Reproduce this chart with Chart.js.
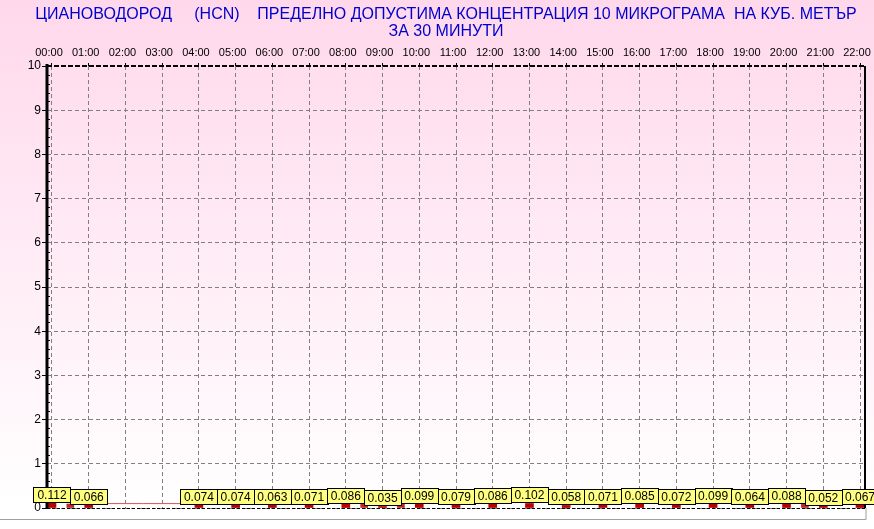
<!DOCTYPE html>
<html><head><meta charset="utf-8">
<script src="https://cdn.jsdelivr.net/npm/chart.js@4"></script>
<style>html,body{margin:0;padding:0;background:#fff}#wrap{width:874px;height:529px;position:relative}</style>
</head><body><div id="wrap"><canvas id="c" width="874" height="529"></canvas></div>
<script>
const titleLines = ['ЦИАНОВОДОРОД     (HCN)    ПРЕДЕЛНО ДОПУСТИМА КОНЦЕНТРАЦИЯ 10 МИКРОГРАМА  НА КУБ. МЕТЪР', 'ЗА 30 МИНУТИ'];
const hourLabels = ['00:00','01:00','02:00','03:00','04:00','05:00','06:00','07:00','08:00','09:00','10:00','11:00','12:00','13:00','14:00','15:00','16:00','17:00','18:00','19:00','20:00','21:00','22:00'];
const hourlyValues = [0.112,0.066,null,null,0.074,0.074,0.063,0.071,0.086,0.035,0.099,0.079,0.086,0.102,0.058,0.071,0.085,0.072,0.099,0.064,0.088,0.052,0.067];
const halfHourLabels = ['00:30','08:30','09:30','20:30'];
const halfHourValues = [0.09,0.1,0.1,0.1];
const traceLabels = ['00:30','01:00','01:30','02:00','02:30','03:00','03:30','04:00'];
const traceValues = [0.1,0.1,0.1,0.1,0.1,0.1,0.1,0.1];
const yMin = 0, yMax = 10;

const toH = s => { const p = s.split(':'); return +p[0] + (+p[1])/60; };
const FONT = '"Liberation Sans", Arial, sans-serif';

const bgPlugin = {
  id: 'bg',
  beforeDraw(chart) {
    const ctx = chart.ctx;
    const g = ctx.createLinearGradient(0, 0, 0, chart.height);
    g.addColorStop(0, '#FFD8EB');
    g.addColorStop(0.96, '#FFFFFF');
    g.addColorStop(1, '#FFFFFF');
    ctx.save();
    ctx.fillStyle = g;
    ctx.fillRect(0, 0, chart.width, chart.height);
    ctx.fillStyle = '#0000CC';
    ctx.font = '16px ' + FONT;
    ctx.textAlign = 'center';
    ctx.textBaseline = 'middle';
    ctx.fillText(titleLines[0], 446, 15);
    ctx.fillText(titleLines[1], 446, 32);
    ctx.restore();
  }
};

const framePlugin = {
  id: 'frame',
  afterDatasetsDraw(chart) {
    const ctx = chart.ctx, a = chart.chartArea, ys = chart.scales.y, xs = chart.scales.x;
    ctx.save();
    ctx.strokeStyle = '#000'; ctx.lineWidth = 1; ctx.setLineDash([3,2]);
    ctx.beginPath(); ctx.moveTo(a.left, a.bottom + 0.5); ctx.lineTo(a.right, a.bottom + 0.5); ctx.stroke();
    ctx.lineWidth = 2; ctx.setLineDash([5,2]);
    ctx.beginPath(); ctx.moveTo(a.left, a.top); ctx.lineTo(a.right, a.top); ctx.stroke();
    ctx.setLineDash([]);
    ctx.lineWidth = 2;
    ctx.beginPath(); ctx.moveTo(a.right, a.top); ctx.lineTo(a.right, a.bottom); ctx.stroke();
    ctx.lineWidth = 3;
    ctx.beginPath(); ctx.moveTo(a.left, a.top - 2); ctx.lineTo(a.left, a.bottom); ctx.stroke();
    ctx.lineWidth = 1;
    for (let i = 1; i < 50; i++) {
      if (i % 5 === 0) continue;
      const py = Math.round(ys.getPixelForValue(i / 5)) + 0.5;
      ctx.beginPath(); ctx.moveTo(a.left, py); ctx.lineTo(a.left + 3, py); ctx.stroke();
    }
    ctx.strokeStyle = '#A0A0A0'; ctx.lineWidth = 1;
    ctx.beginPath(); ctx.moveTo(0, 519.5); ctx.lineTo(a.right + 1, 519.5); ctx.lineTo(a.right + 1, a.bottom); ctx.stroke();
    ctx.font = '12px ' + FONT;
    ctx.textAlign = 'center'; ctx.textBaseline = 'middle';
    hourLabels.forEach((l, i) => {
      const v = hourlyValues[i];
      if (v === null) return;
      const px = xs.getPixelForValue(toH(l));
      const py = ys.getPixelForValue(v);
      const txt = v.toFixed(3);
      const w = 37, h = 15;
      const x0 = Math.round(px - w / 2) + 0.5, y0 = Math.round(py - 1 - h) + 0.5;
      ctx.fillStyle = '#FFFF80';
      ctx.fillRect(x0, y0, w, h);
      ctx.strokeStyle = '#000';
      ctx.strokeRect(x0, y0, w, h);
      ctx.fillStyle = '#000';
      ctx.fillText(txt, px, y0 + h / 2 + 0.5);
    });
    ctx.restore();
  }
};

const hourlyData = hourLabels.map((l, i) => ({ x: toH(l), y: hourlyValues[i] })).filter(p => p.y !== null);
const halfData = halfHourLabels.map((l, i) => ({ x: toH(l), y: halfHourValues[i] }));
const traceData = traceLabels.map((l, i) => ({ x: toH(l), y: traceValues[i] }));

new Chart(document.getElementById('c'), {
  type: 'bar',
  data: {
    datasets: [
      { type: 'line', data: traceData, borderColor: '#E05050', borderWidth: 1, pointRadius: 0, order: 3 },
      { data: halfData, backgroundColor: '#C02828', barThickness: 7, grouped: false, order: 2 },
      { data: hourlyData, backgroundColor: '#B80000', barThickness: 8, grouped: false, order: 1 }
    ]
  },
  options: {
    responsive: false, animation: false,
    layout: { padding: { left: 0, right: 9, top: 0, bottom: 21 } },
    plugins: { legend: { display: false }, tooltip: { enabled: false }, title: { display: false } },
    scales: {
      x: {
        type: 'linear', position: 'top', min: -0.136, max: 22.136, offset: false,
        ticks: { stepSize: 1, includeBounds: false, autoSkip: false, maxRotation: 0, labelOffset: -3, padding: 3,
          color: '#000', font: { family: FONT, size: 11 },
          callback: v => hourLabels[v] || '' },
        grid: { offset: false, color: '#808080', lineWidth: 1, drawTicks: true, tickLength: 3, tickColor: '#000' },
        border: { display: false, dash: [4, 3] },
        afterFit(s) { s.height = 66; s.paddingLeft = 0; s.paddingRight = 0; }
      },
      y: {
        min: yMin, max: yMax,
        ticks: { stepSize: 1, color: '#000', padding: 1, font: { family: FONT, size: 12 } },
        grid: { color: '#808080', lineWidth: 1, drawTicks: true, tickLength: 5, tickColor: '#000' },
        border: { display: false, dash: [4, 3] },
        afterFit(s) { s.width = 47; s.paddingTop = 0; s.paddingBottom = 0; }
      }
    }
  },
  plugins: [bgPlugin, framePlugin]
});
</script></body></html>
